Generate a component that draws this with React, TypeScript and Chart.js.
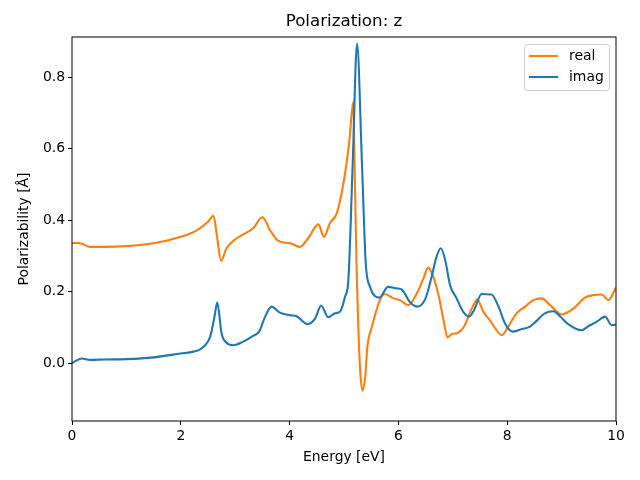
import React, { useEffect, useRef } from "react";
import { Chart, registerables } from "chart.js";

Chart.register(...registerables);

const realEnergy = [0, 0.1, 0.2, 0.33, 0.6, 1.0, 1.5, 2.0, 2.3, 2.5, 2.6, 2.66, 2.74, 2.84, 3.03, 3.33, 3.5, 3.64, 3.79, 4.01, 4.19, 4.34, 4.53, 4.63, 4.74, 4.87, 5.02, 5.10, 5.17, 5.20, 5.23, 5.29, 5.34, 5.39, 5.43, 5.51, 5.66, 5.75, 5.91, 6.03, 6.18, 6.34, 6.46, 6.55, 6.64, 6.73, 6.83, 6.90, 6.98, 7.10, 7.22, 7.35, 7.45, 7.56, 7.68, 7.78, 7.90, 8.02, 8.17, 8.33, 8.48, 8.63, 8.79, 9.00, 9.22, 9.43, 9.58, 9.74, 9.86, 10.0];
const realValues = [0.336, 0.336, 0.333, 0.325, 0.325, 0.327, 0.335, 0.353, 0.372, 0.395, 0.412, 0.36, 0.286, 0.321, 0.349, 0.377, 0.408, 0.372, 0.342, 0.335, 0.325, 0.349, 0.388, 0.353, 0.391, 0.420, 0.531, 0.624, 0.731, 0.51, 0.28, 0.0, -0.077, -0.038, 0.046, 0.10, 0.176, 0.193, 0.181, 0.176, 0.162, 0.195, 0.237, 0.267, 0.242, 0.195, 0.120, 0.072, 0.081, 0.085, 0.106, 0.153, 0.178, 0.144, 0.120, 0.097, 0.078, 0.102, 0.139, 0.158, 0.176, 0.181, 0.162, 0.136, 0.153, 0.183, 0.190, 0.192, 0.176, 0.211];

const imagEnergy = [0, 0.18, 0.33, 0.6, 1.0, 1.5, 2.0, 2.23, 2.38, 2.54, 2.62, 2.67, 2.75, 2.84, 2.97, 3.15, 3.33, 3.44, 3.55, 3.67, 3.82, 4.01, 4.13, 4.33, 4.47, 4.58, 4.71, 4.83, 4.93, 5.02, 5.08, 5.16, 5.24, 5.33, 5.40, 5.48, 5.65, 5.81, 5.97, 6.06, 6.21, 6.35, 6.49, 6.61, 6.70, 6.78, 6.86, 6.95, 7.07, 7.19, 7.30, 7.39, 7.53, 7.71, 7.84, 7.96, 8.11, 8.27, 8.42, 8.54, 8.69, 8.85, 8.97, 9.12, 9.37, 9.49, 9.65, 9.80, 9.92, 10.0];
const imagValues = [0.0, 0.013, 0.009, 0.010, 0.011, 0.016, 0.027, 0.032, 0.041, 0.074, 0.13, 0.169, 0.083, 0.057, 0.050, 0.060, 0.076, 0.088, 0.130, 0.158, 0.141, 0.134, 0.131, 0.109, 0.125, 0.161, 0.128, 0.139, 0.144, 0.186, 0.232, 0.559, 0.894, 0.559, 0.279, 0.213, 0.183, 0.213, 0.209, 0.206, 0.171, 0.158, 0.178, 0.241, 0.297, 0.321, 0.288, 0.218, 0.181, 0.144, 0.130, 0.148, 0.193, 0.192, 0.158, 0.111, 0.088, 0.095, 0.102, 0.118, 0.139, 0.145, 0.131, 0.109, 0.092, 0.103, 0.116, 0.130, 0.106, 0.108];

const xTicks = [0, 2, 4, 6, 8, 10];
const yTicks = [0.0, 0.2, 0.4, 0.6, 0.8];
const seriesLabels = ["real", "imag"];
const seriesColors = ["#ff7f0e", "#1f77b4"];
const titleText = "Polarization: z";
const xTitle = "Energy [eV]";
const yTitle = "Polarizability [Å]";

const FONT = "'DejaVu Sans', sans-serif";

const decorPlugin = {
  id: "decor",
  afterDraw(chart: any) {
    const { ctx, chartArea } = chart;
    const { left, right, top, bottom } = chartArea;
    ctx.save();
    // frame
    ctx.strokeStyle = "#000";
    ctx.lineWidth = 1;
    ctx.strokeRect(left, top, right - left, bottom - top);
    // title
    ctx.fillStyle = "#000";
    ctx.textAlign = "center";
    ctx.textBaseline = "middle";
    ctx.font = `16.7px ${FONT}`;
    ctx.fillText(titleText, (left + right) / 2, 22);
    // axis titles
    ctx.font = `13.9px ${FONT}`;
    ctx.fillText(xTitle, (left + right) / 2, 457);
    ctx.save();
    ctx.translate(24, (top + bottom) / 2);
    ctx.rotate(-Math.PI / 2);
    ctx.fillText(yTitle, 0, 0);
    ctx.restore();
    // legend
    const bx = 524.5, by = 44.5, bw = 85, bh = 46, r = 3;
    ctx.beginPath();
    ctx.moveTo(bx + r, by);
    ctx.lineTo(bx + bw - r, by);
    ctx.quadraticCurveTo(bx + bw, by, bx + bw, by + r);
    ctx.lineTo(bx + bw, by + bh - r);
    ctx.quadraticCurveTo(bx + bw, by + bh, bx + bw - r, by + bh);
    ctx.lineTo(bx + r, by + bh);
    ctx.quadraticCurveTo(bx, by + bh, bx, by + bh - r);
    ctx.lineTo(bx, by + r);
    ctx.quadraticCurveTo(bx, by, bx + r, by);
    ctx.closePath();
    ctx.fillStyle = "rgba(255,255,255,0.8)";
    ctx.fill();
    ctx.strokeStyle = "#cccccc";
    ctx.lineWidth = 1;
    ctx.stroke();
    const rows = [56, 77];
    seriesLabels.forEach((lab, i) => {
      ctx.strokeStyle = seriesColors[i];
      ctx.lineWidth = 2.1;
      ctx.beginPath();
      ctx.moveTo(529, rows[i]);
      ctx.lineTo(558, rows[i]);
      ctx.stroke();
      ctx.fillStyle = "#000";
      ctx.textAlign = "left";
      ctx.textBaseline = "middle";
      ctx.font = `13.9px ${FONT}`;
      ctx.fillText(lab, 569, rows[i]);
    });
    ctx.restore();
  },
};

export default function App() {
  const ref = useRef<HTMLCanvasElement | null>(null);
  useEffect(() => {
    if (!ref.current) return;
    const chart = new Chart(ref.current, {
      type: "scatter",
      data: {
        datasets: [
          {
            label: seriesLabels[0],
            data: realEnergy.map((e, i) => ({ x: e, y: realValues[i] })),
            borderColor: seriesColors[0],
            backgroundColor: seriesColors[0],
            borderWidth: 2.1,
            showLine: true,
            pointRadius: 0,
            cubicInterpolationMode: "monotone",
            order: 1,
          },
          {
            label: seriesLabels[1],
            data: imagEnergy.map((e, i) => ({ x: e, y: imagValues[i] })),
            borderColor: seriesColors[1],
            backgroundColor: seriesColors[1],
            borderWidth: 2.1,
            showLine: true,
            pointRadius: 0,
            cubicInterpolationMode: "monotone",
            order: 0,
          },
        ],
      },
      options: {
        animation: false,
        responsive: false,
        devicePixelRatio: 1,
        layout: { padding: { left: 0, right: 24, top: 37, bottom: 0 } },
        plugins: {
          legend: { display: false },
          title: { display: false },
          tooltip: { enabled: false },
        },
        scales: {
          x: {
            type: "linear",
            min: 0,
            max: 10,
            afterBuildTicks: (s: any) => {
              s.ticks = xTicks.map((v) => ({ value: v }));
            },
            afterFit: (s: any) => {
              s.height = 59;
            },
            grid: {
              drawOnChartArea: false,
              drawTicks: true,
              tickLength: 4,
              color: "#000",
              lineWidth: 1,
            },
            border: { display: false },
            ticks: {
              color: "#000",
              padding: 3,
              font: { family: FONT, size: 13.9 },
              callback: (v: any) => String(v),
              maxRotation: 0,
            },
          },
          y: {
            type: "linear",
            min: -0.162,
            max: 0.912,
            afterBuildTicks: (s: any) => {
              s.ticks = yTicks.map((v) => ({ value: v }));
            },
            afterFit: (s: any) => {
              s.width = 72;
            },
            grid: {
              drawOnChartArea: false,
              drawTicks: true,
              tickLength: 4,
              color: "#000",
              lineWidth: 1,
            },
            border: { display: false },
            ticks: {
              color: "#000",
              padding: 3,
              font: { family: FONT, size: 13.9 },
              callback: (v: any) => Number(v).toFixed(1),
            },
          },
        },
      },
      plugins: [decorPlugin],
    } as any);
    return () => chart.destroy();
  }, []);
  return (
    <div style={{ position: "fixed", left: 0, top: 0, width: 640, height: 480, background: "#fff" }}>
      <canvas ref={ref} width={640} height={480} />
    </div>
  );
}
